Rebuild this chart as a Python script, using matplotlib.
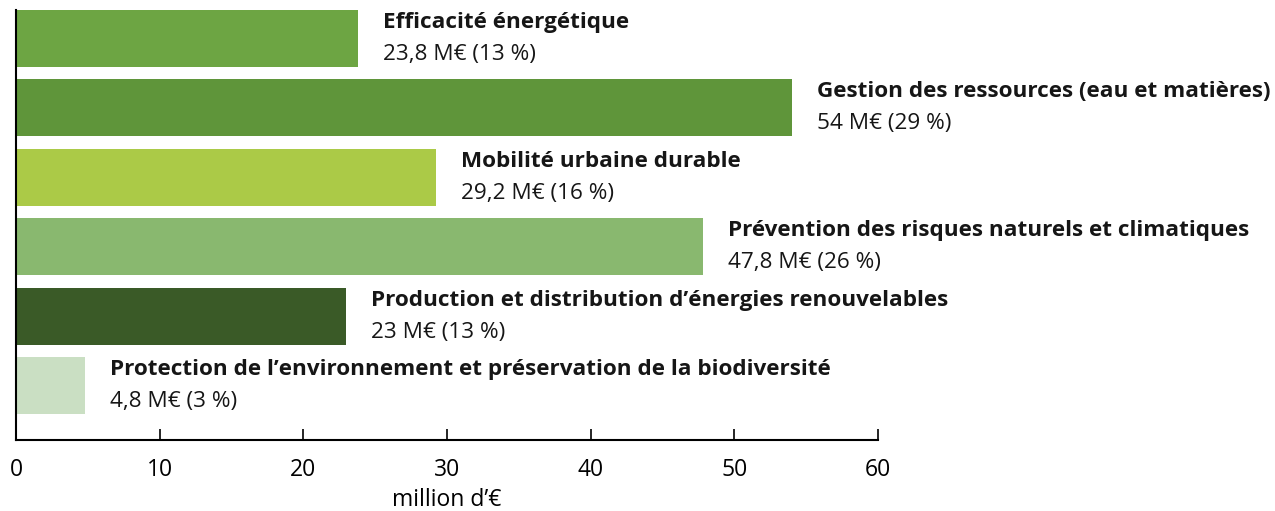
import matplotlib
matplotlib.use("Agg")
from matplotlib import pyplot as plt

categories = [
    "Efficacité énergétique",
    "Gestion des ressources (eau et matières)",
    "Mobilité urbaine durable",
    "Prévention des risques naturels et climatiques",
    "Production et distribution d’énergies renouvelables",
    "Protection de l’environnement et préservation de la biodiversité",
]
values = [23.8, 54, 29.2, 47.8, 23, 4.8]
value_labels = ["23,8 M€ (13 %)", "54 M€ (29 %)", "29,2 M€ (16 %)",
                "47,8 M€ (26 %)", "23 M€ (13 %)", "4,8 M€ (3 %)"]
colors = ["#6da543", "#5f953a", "#abca47", "#89b86f", "#3a5a27", "#cadfc3"]

plt.rcParams['font.family'] = ['Open Sans', 'DejaVu Sans']

fig = plt.figure(figsize=(12.75, 5.11), dpi=100)
ax = fig.add_axes([16 / 1275, 1 - 440 / 511, 862 / 1275, 430 / 511])

ypos = list(range(len(values)))
ax.barh(ypos, values, height=0.82, color=colors)

for y, v, name, lab in zip(ypos, values, categories, value_labels):
    ax.annotate(name, xy=(v, y - 0.41), xytext=(18, -9), textcoords='offset points',
                ha='left', va='center', fontsize=16.2, fontweight='bold', color='#161616',
                annotation_clip=False)
    ax.annotate(lab, xy=(v, y + 0.41), xytext=(18, 9), textcoords='offset points',
                ha='left', va='center', fontsize=16.2, color='#161616',
                annotation_clip=False)

ax.set_xlim(0, 60)
ax.set_ylim(5.78, -0.41)
ax.set_yticks([])
ax.set_xticks([0, 10, 20, 30, 40, 50, 60])
ax.tick_params(axis='x', direction='in', length=8, width=1.2, labelsize=16.5, pad=13)
for s in ['top', 'right']:
    ax.spines[s].set_visible(False)
ax.spines['left'].set_linewidth(1.5)
ax.spines['bottom'].set_linewidth(1.5)
ax.set_xlabel("million d’€", fontsize=16.5, labelpad=4)

fig.savefig("out.png", dpi=100)
